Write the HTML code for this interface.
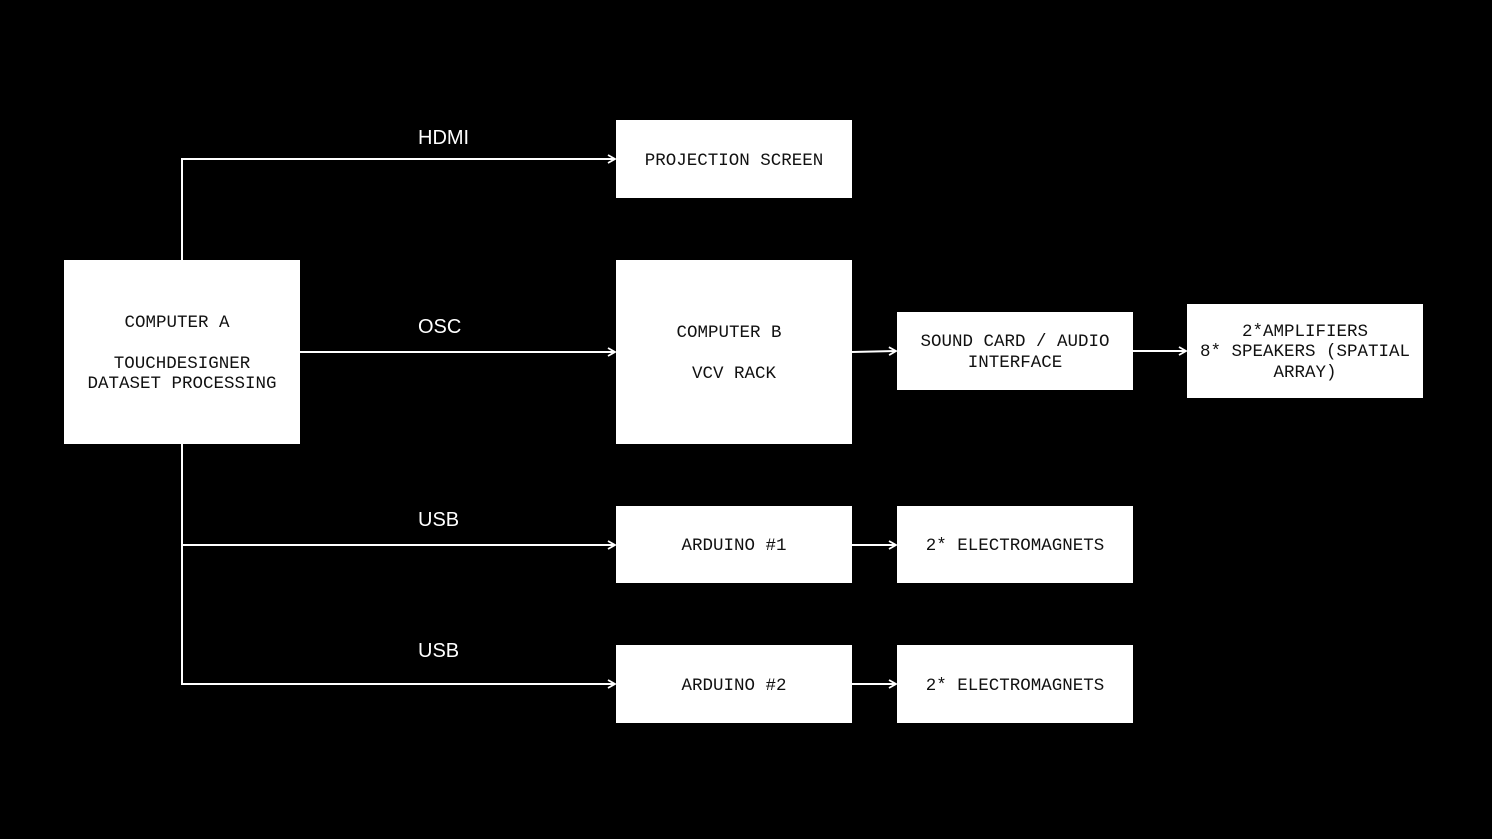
<!DOCTYPE html>
<html><head><meta charset="utf-8"><style>
html,body{margin:0;padding:0;background:#000;}
svg{display:block}
.b{fill:#fff}
.t{font-family:"Liberation Mono",monospace;font-size:17.5px;fill:#111;text-anchor:middle}
.l{font-family:"Liberation Sans",sans-serif;font-size:20px;fill:#fff}
.c{stroke:#fff;stroke-width:2;fill:none}
</style></head><body>
<svg width="1492" height="839" viewBox="0 0 1492 839" xmlns="http://www.w3.org/2000/svg">
<rect width="1492" height="839" fill="#000"/>
<defs><marker id="a" markerWidth="10" markerHeight="10" refX="8" refY="5" orient="auto" markerUnits="userSpaceOnUse"><path d="M1,1 L8,5 L1,9" stroke="#fff" stroke-width="1.8" fill="none"/></marker></defs>
<path class="c" d="M182,260 V159 H615" marker-end="url(#a)"/>
<path class="c" d="M300,352 H615" marker-end="url(#a)"/>
<path class="c" d="M182,444 V684 H615" marker-end="url(#a)"/>
<path class="c" d="M182,545 H615" marker-end="url(#a)"/>
<path class="c" d="M852,352 L896,351" marker-end="url(#a)"/>
<path class="c" d="M1133,351 H1186" marker-end="url(#a)"/>
<path class="c" d="M852,545 H896" marker-end="url(#a)"/>
<path class="c" d="M852,684 H896" marker-end="url(#a)"/>
<text class="l" x="418" y="144">HDMI</text>
<text class="l" x="418" y="333">OSC</text>
<text class="l" x="418" y="526">USB</text>
<text class="l" x="418" y="657">USB</text>
<rect class="b" x="64" y="260" width="236" height="184"/>
<text class="t" x="177" y="327">COMPUTER A</text>
<text class="t" x="182" y="368">TOUCHDESIGNER</text>
<text class="t" x="182" y="388">DATASET PROCESSING</text>
<rect class="b" x="616" y="120" width="236" height="78"/>
<text class="t" x="734" y="165">PROJECTION SCREEN</text>
<rect class="b" x="616" y="260" width="236" height="184"/>
<text class="t" x="729" y="337">COMPUTER B</text>
<text class="t" x="734" y="378">VCV RACK</text>
<rect class="b" x="897" y="312" width="236" height="78"/>
<text class="t" x="1015" y="346">SOUND CARD / AUDIO</text>
<text class="t" x="1015" y="367">INTERFACE</text>
<rect class="b" x="1187" y="304" width="236" height="94"/>
<text class="t" x="1305" y="336">2*AMPLIFIERS</text>
<text class="t" x="1305" y="356">8* SPEAKERS (SPATIAL</text>
<text class="t" x="1305" y="377">ARRAY)</text>
<rect class="b" x="616" y="506" width="236" height="77"/>
<text class="t" x="734" y="550">ARDUINO #1</text>
<rect class="b" x="897" y="506" width="236" height="77"/>
<text class="t" x="1015" y="550">2* ELECTROMAGNETS</text>
<rect class="b" x="616" y="645" width="236" height="78"/>
<text class="t" x="734" y="690">ARDUINO #2</text>
<rect class="b" x="897" y="645" width="236" height="78"/>
<text class="t" x="1015" y="690">2* ELECTROMAGNETS</text>
</svg>
</body></html>
